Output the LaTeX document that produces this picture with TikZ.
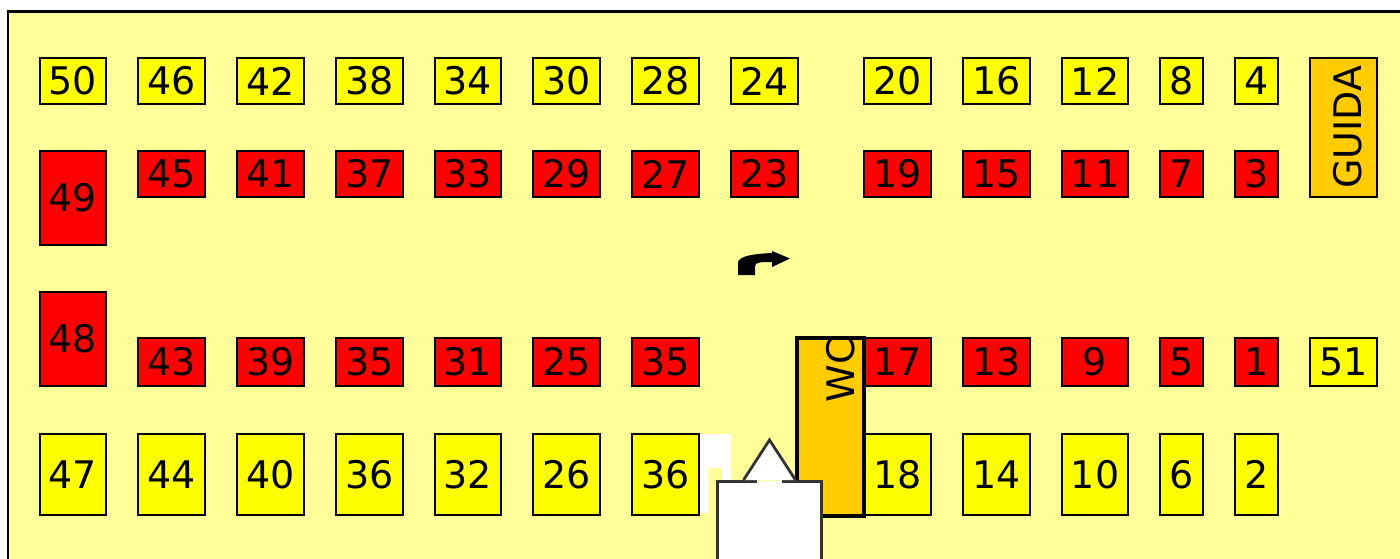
\documentclass[tikz,border=0pt]{standalone}
\usepackage{fontspec}
\setmainfont{DejaVu Sans}
\definecolor{bgy}{HTML}{FFFF99}
\definecolor{oran}{HTML}{FFCC00}
\definecolor{yel}{HTML}{FFFF00}
\definecolor{rd}{HTML}{FF0000}
\tikzset{
 seat/.style={draw=black,line width=2.6pt,inner sep=0pt,font=\fontsize{38}{38}\selectfont},
 seaty/.style={seat,fill=yel},
 seatr/.style={seat,fill=rd},
 gateline/.style={draw=black!80,line width=2.8pt}
}
% name, x0, x1, y0, y1, style
\newcommand{\seatbox}[6]{\node[#6,minimum width={(#3-#2)*1pt},minimum height={(#5-#4)*1pt},anchor=center] (n#1#4) at ({(#2+#3)/2},{(#4+#5)/2}) {#1};}
\begin{document}
\begin{tikzpicture}[x=1pt,y=-1pt]
\useasboundingbox (0,0) rectangle (1400,559);
\fill[white] (0,0) rectangle (1400,559);
\fill[bgy] (8,12) rectangle (1400,559);
\draw[line width=2.6pt] (8,559) -- (8,11.5) -- (1400,11.5);
% row 1
\foreach \n/\a/\b in {50/40/106,46/138/205,42/237/304,38/336/403,34/435/501,30/533/600,28/632/699,24/731/798,20/864/931,16/963/1030,12/1062/1128,8/1160/1203,4/1235/1278}
  {\seatbox{\n}{\a}{\b}{58}{104}{seaty}}
% row 2
\foreach \n/\a/\b in {45/138/205,41/237/304,37/336/403,33/435/501,29/533/600,27/632/699,23/731/798,19/864/931,15/963/1030,11/1062/1128,7/1160/1203,3/1235/1278}
  {\seatbox{\n}{\a}{\b}{151}{197}{seatr}}
\seatbox{49}{40}{106}{151}{245}{seatr}
\seatbox{48}{40}{106}{292}{386}{seatr}
% row 3
\foreach \n/\a/\b in {43/138/205,39/237/304,35/336/403,31/435/501,25/533/600,35/632/699,17/864/931,13/963/1030,9/1062/1128,5/1160/1203,1/1235/1278}
  {\seatbox{\n}{\a}{\b}{338}{386}{seatr}}
\seatbox{51}{1310}{1377}{338}{386}{seaty}
% row 4
\foreach \n/\a/\b in {47/40/106,44/138/205,40/237/304,36/336/403,32/435/501,26/533/600,36/632/699,18/864/931,14/963/1030,10/1062/1128,6/1160/1203,2/1235/1278}
  {\seatbox{\n}{\a}{\b}{434}{515}{seaty}}
% GUIDA
\node[draw=black,line width=2.6pt,fill=oran,minimum width=67pt,minimum height=139pt,inner sep=0pt] (guida) at (1343.5,127.5) {};
\node[rotate=90,font=\fontsize{38}{38}\selectfont,inner sep=0pt] (guidat) at (1348,127) {GUIDA};
% WC
\node[draw=black,line width=3.6pt,fill=oran,minimum width=67pt,minimum height=178pt,inner sep=0pt] (wc) at (830.5,427) {};
\begin{scope}
\clip (799,340) rectangle (862,514);
\node[rotate=90,font=\fontsize{38}{38}\selectfont,inner sep=0pt] (wct) at (841,370) {WC};
\end{scope}
% white patch
\fill[white] (700,434) -- (731,434) -- (731,482) -- (722,482) -- (722,468) -- (708,468) -- (708,513) -- (700,513) -- cycle;
% gate
\fill[white] (717,559) -- (717,481) -- (822,481) -- (822,559) -- cycle;
\draw[gateline] (717.5,559) -- (717.5,481.5) -- (757,481.5) (782,481.5) -- (821.5,481.5) -- (821.5,559);
\fill[white] (743,480) -- (769.5,439) -- (796,480) -- cycle;
\draw[gateline] (743.5,480) -- (769.5,440) -- (795.5,480);
% turn arrow
\fill[black] (738,275) -- (738,262) .. controls (740,256) and (752,254) .. (772,253) -- (772,251) -- (790,258.5) -- (772,267) -- (772,262) .. controls (762,262) and (755,262) .. (755,266) -- (755,275) -- cycle;
\end{tikzpicture}
\end{document}
